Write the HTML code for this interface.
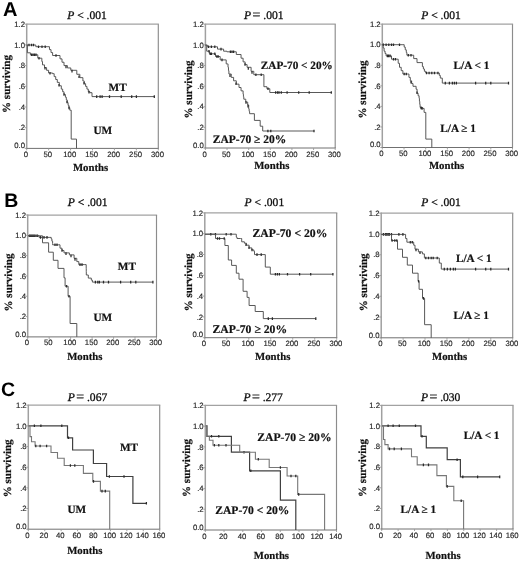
<!DOCTYPE html>
<html><head><meta charset="utf-8"><title>Kaplan-Meier survival curves</title>
<style>
html,body{margin:0;padding:0;background:#fff;}
body{width:520px;height:561px;overflow:hidden;font-family:"Liberation Sans", sans-serif;}
svg{display:block;filter:blur(0.35px);}
</style></head>
<body>
<svg width="520" height="561" viewBox="0 0 520 561" shape-rendering="auto" text-rendering="geometricPrecision">
<rect x="0" y="0" width="520" height="561" fill="#fff"/>
<text x="2.9" y="16.2" font-family='"Liberation Sans", sans-serif' font-size="20" font-weight="bold" font-style="normal" text-anchor="start" fill="#000">A</text>
<text x="4.2" y="207.3" font-family='"Liberation Sans", sans-serif' font-size="19.5" font-weight="bold" font-style="normal" text-anchor="start" fill="#000">B</text>
<text x="0.9" y="396.2" font-family='"Liberation Sans", sans-serif' font-size="19.5" font-weight="bold" font-style="normal" text-anchor="start" fill="#000">C</text>
<path d="M26.7 24.2 H158.9" stroke="#a2a2a2" stroke-width="1.25" fill="none"/>
<path d="M158.3 24.2 V148.4" stroke="#8c8c8c" stroke-width="1.15" fill="none"/>
<path d="M26.7 23.6 V148.9" stroke="#a0a0a0" stroke-width="1.5" fill="none"/>
<path d="M26 148.4 H158.8" stroke="#707070" stroke-width="1.0" fill="none"/>
<text x="25.1" y="26.9" font-family='"Liberation Sans", sans-serif' font-size="7.75" font-weight="normal" font-style="normal" text-anchor="end" fill="#262626" stroke="#262626" stroke-width="0.15">1.2</text>
<text x="25.1" y="47.6" font-family='"Liberation Sans", sans-serif' font-size="7.75" font-weight="normal" font-style="normal" text-anchor="end" fill="#262626" stroke="#262626" stroke-width="0.15">1.0</text>
<text x="25.1" y="68.3" font-family='"Liberation Sans", sans-serif' font-size="7.75" font-weight="normal" font-style="normal" text-anchor="end" fill="#262626" stroke="#262626" stroke-width="0.15">.8</text>
<text x="25.1" y="89" font-family='"Liberation Sans", sans-serif' font-size="7.75" font-weight="normal" font-style="normal" text-anchor="end" fill="#262626" stroke="#262626" stroke-width="0.15">.6</text>
<text x="25.1" y="109.7" font-family='"Liberation Sans", sans-serif' font-size="7.75" font-weight="normal" font-style="normal" text-anchor="end" fill="#262626" stroke="#262626" stroke-width="0.15">.4</text>
<text x="25.1" y="130.4" font-family='"Liberation Sans", sans-serif' font-size="7.75" font-weight="normal" font-style="normal" text-anchor="end" fill="#262626" stroke="#262626" stroke-width="0.15">.2</text>
<text x="25.1" y="148.1" font-family='"Liberation Sans", sans-serif' font-size="7.75" font-weight="normal" font-style="normal" text-anchor="end" fill="#262626" stroke="#262626" stroke-width="0.15">0.0</text>
<text x="25.9" y="156.9" font-family='"Liberation Sans", sans-serif' font-size="7.75" font-weight="normal" font-style="normal" text-anchor="middle" fill="#262626" stroke="#262626" stroke-width="0.15">0</text>
<text x="47.83" y="156.9" font-family='"Liberation Sans", sans-serif' font-size="7.75" font-weight="normal" font-style="normal" text-anchor="middle" fill="#262626" stroke="#262626" stroke-width="0.15">50</text>
<text x="69.77" y="156.9" font-family='"Liberation Sans", sans-serif' font-size="7.75" font-weight="normal" font-style="normal" text-anchor="middle" fill="#262626" stroke="#262626" stroke-width="0.15">100</text>
<text x="91.7" y="156.9" font-family='"Liberation Sans", sans-serif' font-size="7.75" font-weight="normal" font-style="normal" text-anchor="middle" fill="#262626" stroke="#262626" stroke-width="0.15">150</text>
<text x="113.63" y="156.9" font-family='"Liberation Sans", sans-serif' font-size="7.75" font-weight="normal" font-style="normal" text-anchor="middle" fill="#262626" stroke="#262626" stroke-width="0.15">200</text>
<text x="135.57" y="156.9" font-family='"Liberation Sans", sans-serif' font-size="7.75" font-weight="normal" font-style="normal" text-anchor="middle" fill="#262626" stroke="#262626" stroke-width="0.15">250</text>
<text x="157.5" y="156.9" font-family='"Liberation Sans", sans-serif' font-size="7.75" font-weight="normal" font-style="normal" text-anchor="middle" fill="#262626" stroke="#262626" stroke-width="0.15">300</text>
<path d="M24.7 24.2 H26.7 M24.7 44.9 H26.7 M24.7 65.6 H26.7 M24.7 86.3 H26.7 M24.7 107 H26.7 M24.7 127.7 H26.7 M24.7 148.4 H26.7 M26.7 148.4 V150.4 M48.63 148.4 V150.4 M70.57 148.4 V150.4 M92.5 148.4 V150.4 M114.43 148.4 V150.4 M136.37 148.4 V150.4 M158.3 148.4 V150.4" fill="none" stroke="#999999" stroke-width="0.9"/>
<text x="67.2" y="18.8" font-family='"Liberation Serif", serif' font-size="11.55" fill="#111" stroke="#111" stroke-width="0.3"><tspan font-style="italic">P</tspan> &lt; .001</text>
<path d="M26.7 45 L35.8 45 L35.8 46.7 L47.9 46.7 L49.47 46.7 L49.47 49.63 L51.03 49.63 L51.03 52.57 L52.6 52.57 L52.6 55.5 L58 55.5 L60 55.5 L60 58.87 L62 58.87 L62 62.23 L64 62.23 L64 65.6 L67.4 65.6 L67.4 67.95 L70.8 67.95 L70.8 70.3 L76.8 70.3 L76.8 74.3 L79.85 74.3 L79.85 77.65 L82.9 77.65 L82.9 81 L84.25 81 L84.25 83.7 L85.6 83.7 L85.6 86.4 L86.95 86.4 L86.95 89.1 L88.3 89.1 L88.3 91.8 L90 91.8 L90 92.7 L92 92.7 L92 96.6 L154.5 96.6" fill="none" stroke="#505050" stroke-width="0.95"/>
<path d="M29 43.7 V46.3 M31.5 43.7 V46.3 M33.5 43.7 V46.3 M38.5 45.4 V48 M42 45.4 V48 M45.2 45.4 V48 M56 54.2 V56.8 M66 65.68 V68.28 M72 69.8 V72.4 M79 75.42 V78.02 M84 81.9 V84.5 M89 90.87 V93.47 M96.7 95.3 V97.9 M100.1 95.3 V97.9 M102.1 95.3 V97.9 M109.5 95.3 V97.9 M121.2 95.3 V97.9 M131.7 95.3 V97.9 M136.4 95.3 V97.9 M154.3 95.3 V97.9" fill="none" stroke="#2a2a2a" stroke-width="1.25"/>
<path d="M26.7 45 L27.4 45 L27.4 52.8 L30.4 52.8 L30.4 54.8 L37.8 54.8 L37.8 58.2 L41.2 58.2 L41.85 58.2 L41.85 61.55 L42.5 61.55 L42.5 64.9 L44.53 64.9 L44.53 67.6 L46.57 67.6 L46.57 70.3 L48.6 70.3 L48.6 73 L52.6 73 L52.6 73.7 L54.17 73.7 L54.17 76.6 L55.73 76.6 L55.73 79.5 L57.3 79.5 L57.3 82.4 L59.3 82.4 L59.3 85.75 L61.3 85.75 L61.3 89.1 L62.67 89.1 L62.67 91.8 L64.03 91.8 L64.03 94.5 L65.4 94.5 L65.4 97.2 L66.3 97.2 L66.3 99.9 L67.2 99.9 L67.2 102.6 L68.1 102.6 L68.1 105.3 L68.95 105.3 L68.95 107.75 L69.8 107.75 L69.8 110.2 L71.2 110.2 L71.2 139.1 L76.5 139.1 L76.5 148.4" fill="none" stroke="#505050" stroke-width="0.95"/>
<path d="M31.5 53.5 V56.1 M33 53.5 V56.1 M34.5 53.5 V56.1 M36 53.5 V56.1 M39 56.9 V59.5 M45 66.92 V69.52 M50 71.95 V74.55 M59 83.95 V86.55 M64 93.13 V95.73 M67 100.7 V103.3 M69 106.59 V109.19" fill="none" stroke="#2a2a2a" stroke-width="1.25"/>
<text x="108.6" y="91" font-family='"Liberation Serif", serif' font-size="11.25" font-weight="bold" font-style="normal" text-anchor="start" fill="#111" stroke="#111" stroke-width="0.2">MT</text>
<text x="93.4" y="133.7" font-family='"Liberation Serif", serif' font-size="11.25" font-weight="bold" font-style="normal" text-anchor="start" fill="#111" stroke="#111" stroke-width="0.2">UM</text>
<text x="72.9" y="170.5" font-family='"Liberation Serif", serif' font-size="10.75" font-weight="bold" font-style="normal" text-anchor="start" fill="#111" stroke="#111" stroke-width="0.2">Months</text>
<text transform="translate(9.9 84) rotate(-90)" font-family='"Liberation Serif", serif' font-size="11" font-weight="bold" text-anchor="middle" fill="#111" stroke="#111" stroke-width="0.2">% surviving</text>
<path d="M205.4 24.2 H335.8" stroke="#a2a2a2" stroke-width="1.25" fill="none"/>
<path d="M335.2 24.2 V148" stroke="#8c8c8c" stroke-width="1.15" fill="none"/>
<path d="M205.4 23.6 V148.5" stroke="#a0a0a0" stroke-width="1.5" fill="none"/>
<path d="M204.7 148 H335.7" stroke="#707070" stroke-width="1.0" fill="none"/>
<text x="203.8" y="26.9" font-family='"Liberation Sans", sans-serif' font-size="7.75" font-weight="normal" font-style="normal" text-anchor="end" fill="#262626" stroke="#262626" stroke-width="0.15">1.2</text>
<text x="203.8" y="47.53" font-family='"Liberation Sans", sans-serif' font-size="7.75" font-weight="normal" font-style="normal" text-anchor="end" fill="#262626" stroke="#262626" stroke-width="0.15">1.0</text>
<text x="203.8" y="68.17" font-family='"Liberation Sans", sans-serif' font-size="7.75" font-weight="normal" font-style="normal" text-anchor="end" fill="#262626" stroke="#262626" stroke-width="0.15">.8</text>
<text x="203.8" y="88.8" font-family='"Liberation Sans", sans-serif' font-size="7.75" font-weight="normal" font-style="normal" text-anchor="end" fill="#262626" stroke="#262626" stroke-width="0.15">.6</text>
<text x="203.8" y="109.43" font-family='"Liberation Sans", sans-serif' font-size="7.75" font-weight="normal" font-style="normal" text-anchor="end" fill="#262626" stroke="#262626" stroke-width="0.15">.4</text>
<text x="203.8" y="130.07" font-family='"Liberation Sans", sans-serif' font-size="7.75" font-weight="normal" font-style="normal" text-anchor="end" fill="#262626" stroke="#262626" stroke-width="0.15">.2</text>
<text x="203.8" y="147.7" font-family='"Liberation Sans", sans-serif' font-size="7.75" font-weight="normal" font-style="normal" text-anchor="end" fill="#262626" stroke="#262626" stroke-width="0.15">0.0</text>
<text x="204.6" y="156.5" font-family='"Liberation Sans", sans-serif' font-size="7.75" font-weight="normal" font-style="normal" text-anchor="middle" fill="#262626" stroke="#262626" stroke-width="0.15">0</text>
<text x="226.23" y="156.5" font-family='"Liberation Sans", sans-serif' font-size="7.75" font-weight="normal" font-style="normal" text-anchor="middle" fill="#262626" stroke="#262626" stroke-width="0.15">50</text>
<text x="247.87" y="156.5" font-family='"Liberation Sans", sans-serif' font-size="7.75" font-weight="normal" font-style="normal" text-anchor="middle" fill="#262626" stroke="#262626" stroke-width="0.15">100</text>
<text x="269.5" y="156.5" font-family='"Liberation Sans", sans-serif' font-size="7.75" font-weight="normal" font-style="normal" text-anchor="middle" fill="#262626" stroke="#262626" stroke-width="0.15">150</text>
<text x="291.13" y="156.5" font-family='"Liberation Sans", sans-serif' font-size="7.75" font-weight="normal" font-style="normal" text-anchor="middle" fill="#262626" stroke="#262626" stroke-width="0.15">200</text>
<text x="312.77" y="156.5" font-family='"Liberation Sans", sans-serif' font-size="7.75" font-weight="normal" font-style="normal" text-anchor="middle" fill="#262626" stroke="#262626" stroke-width="0.15">250</text>
<text x="334.4" y="156.5" font-family='"Liberation Sans", sans-serif' font-size="7.75" font-weight="normal" font-style="normal" text-anchor="middle" fill="#262626" stroke="#262626" stroke-width="0.15">300</text>
<path d="M203.4 24.2 H205.4 M203.4 44.83 H205.4 M203.4 65.47 H205.4 M203.4 86.1 H205.4 M203.4 106.73 H205.4 M203.4 127.37 H205.4 M203.4 148 H205.4 M205.4 148 V150 M227.03 148 V150 M248.67 148 V150 M270.3 148 V150 M291.93 148 V150 M313.57 148 V150 M335.2 148 V150" fill="none" stroke="#999999" stroke-width="0.9"/>
<text x="244.1" y="19.1" font-family='"Liberation Serif", serif' font-size="11.6" fill="#111" stroke="#111" stroke-width="0.3"><tspan font-style="italic">P</tspan><tspan dx="1.3" font-size="13.92">=</tspan><tspan dx="2.9">.001</tspan></text>
<path d="M205.4 45.1 L207.4 45.1 L207.4 46.8 L217.5 46.8 L217.5 49.1 L223.6 49.1 L223.6 51.2 L226.9 51.2 L226.9 51.8 L236.3 51.8 L236.3 54.5 L239 54.5 L241.05 54.5 L241.05 58.2 L243.1 58.2 L243.1 61.9 L245.1 61.9 L245.1 64.6 L247.1 64.6 L247.1 67.3 L251.1 67.3 L251.1 71.3 L253.8 71.3 L253.8 74.7 L263.9 74.7 L263.9 86.7 L266.9 86.7 L266.9 88.7 L269.8 88.7 L269.8 92.5 L331.3 92.5" fill="none" stroke="#505050" stroke-width="0.95"/>
<path d="M208.5 45.5 V48.1 M211.4 45.5 V48.1 M214.8 45.5 V48.1 M221 47.8 V50.4 M230.4 50.5 V53.1 M232 50.5 V53.1 M233.6 50.5 V53.1 M245 63.17 V65.77 M248.3 67.2 V69.8 M252 71.13 V73.73 M255.9 73.4 V76 M261.2 73.4 V76 M268 87.4 V90 M275.6 91.2 V93.8 M277.5 91.2 V93.8 M279 91.2 V93.8 M281.3 91.2 V93.8 M287.1 91.2 V93.8 M298.7 91.2 V93.8 M309.2 91.2 V93.8 M331.3 91.2 V93.8" fill="none" stroke="#2a2a2a" stroke-width="1.25"/>
<path d="M205.4 45.1 L206.7 45.1 L206.7 51.2 L209.4 51.2 L209.4 53.8 L215.5 53.8 L215.5 56.5 L220.2 56.5 L220.2 59.9 L226.2 59.9 L226.2 63.9 L227.6 63.9 L228.03 63.9 L228.03 67.27 L228.47 67.27 L228.47 70.63 L228.9 70.63 L228.9 74 L231.25 74 L231.25 77.4 L233.6 77.4 L233.6 80.8 L236.3 80.8 L236.3 84.15 L239 84.15 L239 87.5 L241.05 87.5 L241.05 90.85 L243.1 90.85 L243.1 94.2 L243.45 94.2 L243.45 96.7 L243.8 96.7 L243.8 99.2 L245.75 99.2 L245.75 102.1 L247.7 102.1 L247.7 105 L248.7 105 L248.7 108.8 L249.15 108.8 L249.15 111.25 L249.6 111.25 L249.6 113.7 L254.4 113.7 L254.4 120.4 L260.2 120.4 L260.2 126.2 L262.7 126.2 L262.7 131 L314 131" fill="none" stroke="#505050" stroke-width="0.95"/>
<path d="M209 49.9 V52.5 M210.2 52.5 V55.1 M211.4 52.5 V55.1 M214.8 52.5 V55.1 M216.8 55.2 V57.8 M218.2 55.2 V57.8 M222 58.6 V61.2 M230 74.29 V76.89 M236 82.48 V85.08 M246 101.17 V103.77 M248 104.84 V107.44 M267.9 129.7 V132.3 M270.8 129.7 V132.3 M314 129.7 V132.3" fill="none" stroke="#2a2a2a" stroke-width="1.25"/>
<text x="260.8" y="69.2" font-family='"Liberation Serif", serif' font-size="11.25" font-weight="bold" font-style="normal" text-anchor="start" fill="#111" stroke="#111" stroke-width="0.2">ZAP-70 &lt; 20%</text>
<text x="212.8" y="143.2" font-family='"Liberation Serif", serif' font-size="11.5" font-weight="bold" font-style="normal" text-anchor="start" fill="#111" stroke="#111" stroke-width="0.2">ZAP-70 &#8805; 20%</text>
<text x="254.2" y="169.2" font-family='"Liberation Serif", serif' font-size="10.75" font-weight="bold" font-style="normal" text-anchor="start" fill="#111" stroke="#111" stroke-width="0.2">Months</text>
<text transform="translate(191.8 89.5) rotate(-90)" font-family='"Liberation Serif", serif' font-size="11" font-weight="bold" text-anchor="middle" fill="#111" stroke="#111" stroke-width="0.2">% surviving</text>
<path d="M382.3 24.2 H513.1" stroke="#a2a2a2" stroke-width="1.25" fill="none"/>
<path d="M512.5 24.2 V147.5" stroke="#8c8c8c" stroke-width="1.15" fill="none"/>
<path d="M382.3 23.6 V148" stroke="#a0a0a0" stroke-width="1.5" fill="none"/>
<path d="M381.6 147.5 H513" stroke="#707070" stroke-width="1.0" fill="none"/>
<text x="380.7" y="26.9" font-family='"Liberation Sans", sans-serif' font-size="7.75" font-weight="normal" font-style="normal" text-anchor="end" fill="#262626" stroke="#262626" stroke-width="0.15">1.2</text>
<text x="380.7" y="47.45" font-family='"Liberation Sans", sans-serif' font-size="7.75" font-weight="normal" font-style="normal" text-anchor="end" fill="#262626" stroke="#262626" stroke-width="0.15">1.0</text>
<text x="380.7" y="68" font-family='"Liberation Sans", sans-serif' font-size="7.75" font-weight="normal" font-style="normal" text-anchor="end" fill="#262626" stroke="#262626" stroke-width="0.15">.8</text>
<text x="380.7" y="88.55" font-family='"Liberation Sans", sans-serif' font-size="7.75" font-weight="normal" font-style="normal" text-anchor="end" fill="#262626" stroke="#262626" stroke-width="0.15">.6</text>
<text x="380.7" y="109.1" font-family='"Liberation Sans", sans-serif' font-size="7.75" font-weight="normal" font-style="normal" text-anchor="end" fill="#262626" stroke="#262626" stroke-width="0.15">.4</text>
<text x="380.7" y="129.65" font-family='"Liberation Sans", sans-serif' font-size="7.75" font-weight="normal" font-style="normal" text-anchor="end" fill="#262626" stroke="#262626" stroke-width="0.15">.2</text>
<text x="380.7" y="147.2" font-family='"Liberation Sans", sans-serif' font-size="7.75" font-weight="normal" font-style="normal" text-anchor="end" fill="#262626" stroke="#262626" stroke-width="0.15">0.0</text>
<text x="381.5" y="156" font-family='"Liberation Sans", sans-serif' font-size="7.75" font-weight="normal" font-style="normal" text-anchor="middle" fill="#262626" stroke="#262626" stroke-width="0.15">0</text>
<text x="403.2" y="156" font-family='"Liberation Sans", sans-serif' font-size="7.75" font-weight="normal" font-style="normal" text-anchor="middle" fill="#262626" stroke="#262626" stroke-width="0.15">50</text>
<text x="424.9" y="156" font-family='"Liberation Sans", sans-serif' font-size="7.75" font-weight="normal" font-style="normal" text-anchor="middle" fill="#262626" stroke="#262626" stroke-width="0.15">100</text>
<text x="446.6" y="156" font-family='"Liberation Sans", sans-serif' font-size="7.75" font-weight="normal" font-style="normal" text-anchor="middle" fill="#262626" stroke="#262626" stroke-width="0.15">150</text>
<text x="468.3" y="156" font-family='"Liberation Sans", sans-serif' font-size="7.75" font-weight="normal" font-style="normal" text-anchor="middle" fill="#262626" stroke="#262626" stroke-width="0.15">200</text>
<text x="490" y="156" font-family='"Liberation Sans", sans-serif' font-size="7.75" font-weight="normal" font-style="normal" text-anchor="middle" fill="#262626" stroke="#262626" stroke-width="0.15">250</text>
<text x="511.7" y="156" font-family='"Liberation Sans", sans-serif' font-size="7.75" font-weight="normal" font-style="normal" text-anchor="middle" fill="#262626" stroke="#262626" stroke-width="0.15">300</text>
<path d="M380.3 24.2 H382.3 M380.3 44.75 H382.3 M380.3 65.3 H382.3 M380.3 85.85 H382.3 M380.3 106.4 H382.3 M380.3 126.95 H382.3 M380.3 147.5 H382.3 M382.3 147.5 V149.5 M404 147.5 V149.5 M425.7 147.5 V149.5 M447.4 147.5 V149.5 M469.1 147.5 V149.5 M490.8 147.5 V149.5 M512.5 147.5 V149.5" fill="none" stroke="#999999" stroke-width="0.9"/>
<text x="421.2" y="18.8" font-family='"Liberation Serif", serif' font-size="11.55" fill="#111" stroke="#111" stroke-width="0.3"><tspan font-style="italic">P</tspan> &lt; .001</text>
<path d="M382.3 44.7 L402.9 44.7 L404.2 44.7 L404.2 47.1 L405.25 47.1 L405.25 49.8 L406.3 49.8 L406.3 52.5 L406.9 52.5 L406.9 55.2 L413 55.2 L413.7 55.2 L413.7 58.6 L417 58.6 L417 62.6 L422.4 62.6 L422.4 66.6 L423.4 66.6 L423.4 68.95 L424.4 68.95 L424.4 71.3 L425.8 71.3 L425.8 73 L439.3 73 L439.3 75.4 L440.3 75.4 L440.3 78.1 L442.3 78.1 L442.3 83.1 L508.5 83.1" fill="none" stroke="#505050" stroke-width="0.95"/>
<path d="M383.4 43.4 V46 M386.1 43.4 V46 M388.8 43.4 V46 M391.5 43.4 V46 M393.5 43.4 V46 M399.5 43.4 V46 M408.3 53.9 V56.5 M411 53.9 V56.5 M426.5 71.7 V74.3 M429.1 71.7 V74.3 M431.8 71.7 V74.3 M434.5 71.7 V74.3 M437.9 71.7 V74.3 M445.3 81.8 V84.4 M449.4 81.8 V84.4 M452.4 81.8 V84.4 M454.4 81.8 V84.4 M456.4 81.8 V84.4 M475.6 81.8 V84.4 M485.7 81.8 V84.4 M490.8 81.8 V84.4 M508.5 81.8 V84.4" fill="none" stroke="#2a2a2a" stroke-width="1.25"/>
<path d="M382.3 44.7 L383.2 44.7 L383.2 47.95 L384.1 47.95 L384.1 51.2 L385.1 51.2 L385.1 53.55 L386.1 53.55 L386.1 55.9 L391.5 55.9 L391.5 59.2 L396.8 59.2 L398.2 59.2 L398.2 63.3 L399.5 63.3 L399.5 67.3 L401.2 67.3 L401.2 70.65 L402.9 70.65 L402.9 74 L407.6 74 L408.95 74 L408.95 77.4 L410.3 77.4 L410.3 80.8 L411.65 80.8 L411.65 83.55 L413 83.55 L413 86.3 L416.1 86.3 L416.1 89.2 L417.1 89.2 L417.1 93.2 L418.1 93.2 L418.1 95.75 L419.1 95.75 L419.1 98.3 L419.43 98.3 L419.43 101.33 L419.77 101.33 L419.77 104.37 L420.1 104.37 L420.1 107.4 L422.1 107.4 L422.1 108.4 L424.1 108.4 L424.1 112.4 L425.8 112.4 L425.8 114 L425.8 139.1 L431.8 139.1 L431.8 147.5" fill="none" stroke="#505050" stroke-width="0.95"/>
<path d="M387.4 54.6 V57.2 M388.6 54.6 V57.2 M390.1 54.6 V57.2 M393.5 57.9 V60.5 M395.5 57.9 V60.5 M404.2 72.7 V75.3 M406.3 72.7 V75.3 M411 80.93 V83.53 M417 91.5 V94.1 M421 106.55 V109.15 M422.1 107.1 V109.7" fill="none" stroke="#2a2a2a" stroke-width="1.25"/>
<text x="453.6" y="68.8" font-family='"Liberation Serif", serif' font-size="11.25" font-weight="bold" font-style="normal" text-anchor="start" fill="#111" stroke="#111" stroke-width="0.2">L/A &lt; 1</text>
<text x="440.3" y="131.6" font-family='"Liberation Serif", serif' font-size="11.25" font-weight="bold" font-style="normal" text-anchor="start" fill="#111" stroke="#111" stroke-width="0.2">L/A &#8805; 1</text>
<text x="428.9" y="169.2" font-family='"Liberation Serif", serif' font-size="10.75" font-weight="bold" font-style="normal" text-anchor="start" fill="#111" stroke="#111" stroke-width="0.2">Months</text>
<text transform="translate(366.1 89.5) rotate(-90)" font-family='"Liberation Serif", serif' font-size="11" font-weight="bold" text-anchor="middle" fill="#111" stroke="#111" stroke-width="0.2">% surviving</text>
<path d="M27.7 215 H157.1" stroke="#a2a2a2" stroke-width="1.25" fill="none"/>
<path d="M156.5 215 V336.9" stroke="#8c8c8c" stroke-width="1.15" fill="none"/>
<path d="M27.7 214.4 V337.4" stroke="#a0a0a0" stroke-width="1.5" fill="none"/>
<path d="M27 336.9 H157" stroke="#707070" stroke-width="1.0" fill="none"/>
<text x="26.1" y="217.7" font-family='"Liberation Sans", sans-serif' font-size="7.75" font-weight="normal" font-style="normal" text-anchor="end" fill="#262626" stroke="#262626" stroke-width="0.15">1.2</text>
<text x="26.1" y="238.02" font-family='"Liberation Sans", sans-serif' font-size="7.75" font-weight="normal" font-style="normal" text-anchor="end" fill="#262626" stroke="#262626" stroke-width="0.15">1.0</text>
<text x="26.1" y="258.33" font-family='"Liberation Sans", sans-serif' font-size="7.75" font-weight="normal" font-style="normal" text-anchor="end" fill="#262626" stroke="#262626" stroke-width="0.15">.8</text>
<text x="26.1" y="278.65" font-family='"Liberation Sans", sans-serif' font-size="7.75" font-weight="normal" font-style="normal" text-anchor="end" fill="#262626" stroke="#262626" stroke-width="0.15">.6</text>
<text x="26.1" y="298.97" font-family='"Liberation Sans", sans-serif' font-size="7.75" font-weight="normal" font-style="normal" text-anchor="end" fill="#262626" stroke="#262626" stroke-width="0.15">.4</text>
<text x="26.1" y="319.28" font-family='"Liberation Sans", sans-serif' font-size="7.75" font-weight="normal" font-style="normal" text-anchor="end" fill="#262626" stroke="#262626" stroke-width="0.15">.2</text>
<text x="26.1" y="336.6" font-family='"Liberation Sans", sans-serif' font-size="7.75" font-weight="normal" font-style="normal" text-anchor="end" fill="#262626" stroke="#262626" stroke-width="0.15">0.0</text>
<text x="26.9" y="345.4" font-family='"Liberation Sans", sans-serif' font-size="7.75" font-weight="normal" font-style="normal" text-anchor="middle" fill="#262626" stroke="#262626" stroke-width="0.15">0</text>
<text x="48.37" y="345.4" font-family='"Liberation Sans", sans-serif' font-size="7.75" font-weight="normal" font-style="normal" text-anchor="middle" fill="#262626" stroke="#262626" stroke-width="0.15">50</text>
<text x="69.83" y="345.4" font-family='"Liberation Sans", sans-serif' font-size="7.75" font-weight="normal" font-style="normal" text-anchor="middle" fill="#262626" stroke="#262626" stroke-width="0.15">100</text>
<text x="91.3" y="345.4" font-family='"Liberation Sans", sans-serif' font-size="7.75" font-weight="normal" font-style="normal" text-anchor="middle" fill="#262626" stroke="#262626" stroke-width="0.15">150</text>
<text x="112.77" y="345.4" font-family='"Liberation Sans", sans-serif' font-size="7.75" font-weight="normal" font-style="normal" text-anchor="middle" fill="#262626" stroke="#262626" stroke-width="0.15">200</text>
<text x="134.23" y="345.4" font-family='"Liberation Sans", sans-serif' font-size="7.75" font-weight="normal" font-style="normal" text-anchor="middle" fill="#262626" stroke="#262626" stroke-width="0.15">250</text>
<text x="155.7" y="345.4" font-family='"Liberation Sans", sans-serif' font-size="7.75" font-weight="normal" font-style="normal" text-anchor="middle" fill="#262626" stroke="#262626" stroke-width="0.15">300</text>
<path d="M25.7 215 H27.7 M25.7 235.32 H27.7 M25.7 255.63 H27.7 M25.7 275.95 H27.7 M25.7 296.27 H27.7 M25.7 316.58 H27.7 M25.7 336.9 H27.7 M27.7 336.9 V338.9 M49.17 336.9 V338.9 M70.63 336.9 V338.9 M92.1 336.9 V338.9 M113.57 336.9 V338.9 M135.03 336.9 V338.9 M156.5 336.9 V338.9" fill="none" stroke="#999999" stroke-width="0.9"/>
<text x="67.8" y="205.9" font-family='"Liberation Serif", serif' font-size="11.6" fill="#111" stroke="#111" stroke-width="0.3"><tspan font-style="italic">P</tspan> &lt; .001</text>
<path d="M28 235.8 L39.1 235.8 L39.1 237.4 L49.9 237.4 L51.2 237.4 L51.2 238.8 L51.9 238.8 L51.9 241.15 L52.6 241.15 L52.6 243.5 L52.6 244.8 L58.6 244.8 L60 244.8 L60 248.2 L62 248.2 L62 250.55 L64 250.55 L64 252.9 L69.4 252.9 L69.4 254.9 L74.1 254.9 L74.1 258.3 L76.8 258.3 L76.8 261.6 L78.8 261.6 L78.8 264.6 L84.2 264.6 L86.2 264.6 L86.2 268.4 L86.25 268.4 L86.25 271.7 L86.3 271.7 L86.3 275 L88.3 275 L88.3 278.1 L91.3 278.1 L91.3 280.1 L92.4 280.1 L92.4 282.1 L152.9 282.1" fill="none" stroke="#505050" stroke-width="0.95"/>
<path d="M29.5 234.5 V237.1 M30.5 234.5 V237.1 M31.5 234.5 V237.1 M32.5 234.5 V237.1 M33.5 234.5 V237.1 M34.5 234.5 V237.1 M36 234.5 V237.1 M37.5 234.5 V237.1 M40.5 236.1 V238.7 M44 236.1 V238.7 M47 236.1 V238.7 M55 243.5 V246.1 M57 243.5 V246.1 M62 249.25 V251.85 M66 252.34 V254.94 M71 254.76 V257.36 M75 258.1 V260.7 M80 263.3 V265.9 M82 263.3 V265.9 M95.4 280.8 V283.4 M97.8 280.8 V283.4 M99.4 280.8 V283.4 M103.5 280.8 V283.4 M108.5 280.8 V283.4 M120.6 280.8 V283.4 M130.7 280.8 V283.4 M135.8 280.8 V283.4 M152.9 280.8 V283.4" fill="none" stroke="#2a2a2a" stroke-width="1.25"/>
<path d="M28 235.8 L42.5 235.8 L42.5 242.8 L48.6 242.8 L48.6 252.2 L53.3 252.2 L53.3 260.3 L58 260.3 L58 268.4 L64 268.4 L64 277.8 L65.1 277.8 L65.1 286.2 L68.1 286.2 L68.1 296.3 L70.1 296.3 L70.1 323.5 L76.8 323.5 L76.8 336.9" fill="none" stroke="#505050" stroke-width="0.95"/>
<path d="M66.5 284.9 V287.5 M69 295 V297.6" fill="none" stroke="#2a2a2a" stroke-width="1.25"/>
<text x="117.8" y="270" font-family='"Liberation Serif", serif' font-size="11.25" font-weight="bold" font-style="normal" text-anchor="start" fill="#111" stroke="#111" stroke-width="0.2">MT</text>
<text x="93.4" y="320.9" font-family='"Liberation Serif", serif' font-size="11.25" font-weight="bold" font-style="normal" text-anchor="start" fill="#111" stroke="#111" stroke-width="0.2">UM</text>
<text x="67.2" y="359.5" font-family='"Liberation Serif", serif' font-size="10.75" font-weight="bold" font-style="normal" text-anchor="start" fill="#111" stroke="#111" stroke-width="0.2">Months</text>
<text transform="translate(11.6 282.5) rotate(-90)" font-family='"Liberation Serif", serif' font-size="11" font-weight="bold" text-anchor="middle" fill="#111" stroke="#111" stroke-width="0.2">% surviving</text>
<path d="M204.8 212.9 H337.3" stroke="#a2a2a2" stroke-width="1.25" fill="none"/>
<path d="M336.7 212.9 V337.7" stroke="#8c8c8c" stroke-width="1.15" fill="none"/>
<path d="M204.8 212.3 V338.2" stroke="#a0a0a0" stroke-width="1.5" fill="none"/>
<path d="M204.1 337.7 H337.2" stroke="#707070" stroke-width="1.0" fill="none"/>
<text x="203.2" y="215.6" font-family='"Liberation Sans", sans-serif' font-size="7.75" font-weight="normal" font-style="normal" text-anchor="end" fill="#262626" stroke="#262626" stroke-width="0.15">1.2</text>
<text x="203.2" y="236.4" font-family='"Liberation Sans", sans-serif' font-size="7.75" font-weight="normal" font-style="normal" text-anchor="end" fill="#262626" stroke="#262626" stroke-width="0.15">1.0</text>
<text x="203.2" y="257.2" font-family='"Liberation Sans", sans-serif' font-size="7.75" font-weight="normal" font-style="normal" text-anchor="end" fill="#262626" stroke="#262626" stroke-width="0.15">.8</text>
<text x="203.2" y="278" font-family='"Liberation Sans", sans-serif' font-size="7.75" font-weight="normal" font-style="normal" text-anchor="end" fill="#262626" stroke="#262626" stroke-width="0.15">.6</text>
<text x="203.2" y="298.8" font-family='"Liberation Sans", sans-serif' font-size="7.75" font-weight="normal" font-style="normal" text-anchor="end" fill="#262626" stroke="#262626" stroke-width="0.15">.4</text>
<text x="203.2" y="319.6" font-family='"Liberation Sans", sans-serif' font-size="7.75" font-weight="normal" font-style="normal" text-anchor="end" fill="#262626" stroke="#262626" stroke-width="0.15">.2</text>
<text x="203.2" y="337.4" font-family='"Liberation Sans", sans-serif' font-size="7.75" font-weight="normal" font-style="normal" text-anchor="end" fill="#262626" stroke="#262626" stroke-width="0.15">0.0</text>
<text x="204" y="346.2" font-family='"Liberation Sans", sans-serif' font-size="7.75" font-weight="normal" font-style="normal" text-anchor="middle" fill="#262626" stroke="#262626" stroke-width="0.15">0</text>
<text x="225.98" y="346.2" font-family='"Liberation Sans", sans-serif' font-size="7.75" font-weight="normal" font-style="normal" text-anchor="middle" fill="#262626" stroke="#262626" stroke-width="0.15">50</text>
<text x="247.97" y="346.2" font-family='"Liberation Sans", sans-serif' font-size="7.75" font-weight="normal" font-style="normal" text-anchor="middle" fill="#262626" stroke="#262626" stroke-width="0.15">100</text>
<text x="269.95" y="346.2" font-family='"Liberation Sans", sans-serif' font-size="7.75" font-weight="normal" font-style="normal" text-anchor="middle" fill="#262626" stroke="#262626" stroke-width="0.15">150</text>
<text x="291.93" y="346.2" font-family='"Liberation Sans", sans-serif' font-size="7.75" font-weight="normal" font-style="normal" text-anchor="middle" fill="#262626" stroke="#262626" stroke-width="0.15">200</text>
<text x="313.92" y="346.2" font-family='"Liberation Sans", sans-serif' font-size="7.75" font-weight="normal" font-style="normal" text-anchor="middle" fill="#262626" stroke="#262626" stroke-width="0.15">250</text>
<text x="335.9" y="346.2" font-family='"Liberation Sans", sans-serif' font-size="7.75" font-weight="normal" font-style="normal" text-anchor="middle" fill="#262626" stroke="#262626" stroke-width="0.15">300</text>
<path d="M202.8 212.9 H204.8 M202.8 233.7 H204.8 M202.8 254.5 H204.8 M202.8 275.3 H204.8 M202.8 296.1 H204.8 M202.8 316.9 H204.8 M202.8 337.7 H204.8 M204.8 337.7 V339.7 M226.78 337.7 V339.7 M248.77 337.7 V339.7 M270.75 337.7 V339.7 M292.73 337.7 V339.7 M314.72 337.7 V339.7 M336.7 337.7 V339.7" fill="none" stroke="#999999" stroke-width="0.9"/>
<text x="244.6" y="205.9" font-family='"Liberation Serif", serif' font-size="11.55" fill="#111" stroke="#111" stroke-width="0.3"><tspan font-style="italic">P</tspan> &lt; .001</text>
<path d="M205 234.2 L236.3 234.2 L236.3 237.1 L237 237.1 L237 238.5 L240.4 238.5 L241.7 238.5 L241.7 241.8 L244.4 241.8 L244.4 243.2 L246.4 243.2 L246.4 245.2 L249.1 245.2 L249.1 247.9 L251.8 247.9 L251.8 249.9 L253.8 249.9 L253.8 251.2 L254.5 251.2 L254.5 254.6 L265.3 254.6 L265.3 267.1 L270.3 267.1 L270.3 274.2 L332.9 274.2" fill="none" stroke="#505050" stroke-width="0.95"/>
<path d="M210.8 232.9 V235.5 M215.5 232.9 V235.5 M226.2 232.9 V235.5 M231 232.9 V235.5 M246 243.5 V246.1 M249 246.5 V249.1 M252 248.73 V251.33 M257 253.3 V255.9 M261.2 253.3 V255.9 M275.4 272.9 V275.5 M277.4 272.9 V275.5 M279.4 272.9 V275.5 M287.5 272.9 V275.5 M299.6 272.9 V275.5 M310.7 272.9 V275.5 M332.9 272.9 V275.5" fill="none" stroke="#2a2a2a" stroke-width="1.25"/>
<path d="M205 234.2 L215.5 234.2 L215.5 238.5 L224.9 238.5 L224.9 245.5 L228.3 245.5 L228.3 260 L231.6 260 L231.6 265.4 L236.3 265.4 L236.3 273.2 L239 273.2 L239 279.2 L243.1 279.2 L243.1 291.3 L247.1 291.3 L247.1 297.4 L249.1 297.4 L249.1 305.5 L255.2 305.5 L255.2 311.5 L263.3 311.5 L263.3 318.6 L315.8 318.6" fill="none" stroke="#505050" stroke-width="0.95"/>
<path d="M217.5 237.2 V239.8 M219.5 237.2 V239.8 M224.2 237.2 V239.8 M268.3 317.3 V319.9 M272.4 317.3 V319.9 M315.8 317.3 V319.9" fill="none" stroke="#2a2a2a" stroke-width="1.25"/>
<text x="252.5" y="237" font-family='"Liberation Serif", serif' font-size="11.7" font-weight="bold" font-style="normal" text-anchor="start" fill="#111" stroke="#111" stroke-width="0.2">ZAP-70 &lt; 20%</text>
<text x="212.5" y="333" font-family='"Liberation Serif", serif' font-size="11.7" font-weight="bold" font-style="normal" text-anchor="start" fill="#111" stroke="#111" stroke-width="0.2">ZAP-70 &#8805; 20%</text>
<text x="255.1" y="359.5" font-family='"Liberation Serif", serif' font-size="10.75" font-weight="bold" font-style="normal" text-anchor="start" fill="#111" stroke="#111" stroke-width="0.2">Months</text>
<text transform="translate(191.6 282.3) rotate(-90)" font-family='"Liberation Serif", serif' font-size="11" font-weight="bold" text-anchor="middle" fill="#111" stroke="#111" stroke-width="0.2">% surviving</text>
<path d="M381.2 213.2 H513.3" stroke="#a2a2a2" stroke-width="1.25" fill="none"/>
<path d="M512.7 213.2 V337.8" stroke="#8c8c8c" stroke-width="1.15" fill="none"/>
<path d="M381.2 212.6 V338.3" stroke="#a0a0a0" stroke-width="1.5" fill="none"/>
<path d="M380.5 337.8 H513.2" stroke="#707070" stroke-width="1.0" fill="none"/>
<text x="379.6" y="215.9" font-family='"Liberation Sans", sans-serif' font-size="7.75" font-weight="normal" font-style="normal" text-anchor="end" fill="#262626" stroke="#262626" stroke-width="0.15">1.2</text>
<text x="379.6" y="236.67" font-family='"Liberation Sans", sans-serif' font-size="7.75" font-weight="normal" font-style="normal" text-anchor="end" fill="#262626" stroke="#262626" stroke-width="0.15">1.0</text>
<text x="379.6" y="257.43" font-family='"Liberation Sans", sans-serif' font-size="7.75" font-weight="normal" font-style="normal" text-anchor="end" fill="#262626" stroke="#262626" stroke-width="0.15">.8</text>
<text x="379.6" y="278.2" font-family='"Liberation Sans", sans-serif' font-size="7.75" font-weight="normal" font-style="normal" text-anchor="end" fill="#262626" stroke="#262626" stroke-width="0.15">.6</text>
<text x="379.6" y="298.97" font-family='"Liberation Sans", sans-serif' font-size="7.75" font-weight="normal" font-style="normal" text-anchor="end" fill="#262626" stroke="#262626" stroke-width="0.15">.4</text>
<text x="379.6" y="319.73" font-family='"Liberation Sans", sans-serif' font-size="7.75" font-weight="normal" font-style="normal" text-anchor="end" fill="#262626" stroke="#262626" stroke-width="0.15">.2</text>
<text x="379.6" y="337.5" font-family='"Liberation Sans", sans-serif' font-size="7.75" font-weight="normal" font-style="normal" text-anchor="end" fill="#262626" stroke="#262626" stroke-width="0.15">0.0</text>
<text x="380.4" y="346.3" font-family='"Liberation Sans", sans-serif' font-size="7.75" font-weight="normal" font-style="normal" text-anchor="middle" fill="#262626" stroke="#262626" stroke-width="0.15">0</text>
<text x="402.32" y="346.3" font-family='"Liberation Sans", sans-serif' font-size="7.75" font-weight="normal" font-style="normal" text-anchor="middle" fill="#262626" stroke="#262626" stroke-width="0.15">50</text>
<text x="424.23" y="346.3" font-family='"Liberation Sans", sans-serif' font-size="7.75" font-weight="normal" font-style="normal" text-anchor="middle" fill="#262626" stroke="#262626" stroke-width="0.15">100</text>
<text x="446.15" y="346.3" font-family='"Liberation Sans", sans-serif' font-size="7.75" font-weight="normal" font-style="normal" text-anchor="middle" fill="#262626" stroke="#262626" stroke-width="0.15">150</text>
<text x="468.07" y="346.3" font-family='"Liberation Sans", sans-serif' font-size="7.75" font-weight="normal" font-style="normal" text-anchor="middle" fill="#262626" stroke="#262626" stroke-width="0.15">200</text>
<text x="489.98" y="346.3" font-family='"Liberation Sans", sans-serif' font-size="7.75" font-weight="normal" font-style="normal" text-anchor="middle" fill="#262626" stroke="#262626" stroke-width="0.15">250</text>
<text x="511.9" y="346.3" font-family='"Liberation Sans", sans-serif' font-size="7.75" font-weight="normal" font-style="normal" text-anchor="middle" fill="#262626" stroke="#262626" stroke-width="0.15">300</text>
<path d="M379.2 213.2 H381.2 M379.2 233.97 H381.2 M379.2 254.73 H381.2 M379.2 275.5 H381.2 M379.2 296.27 H381.2 M379.2 317.03 H381.2 M379.2 337.8 H381.2 M381.2 337.8 V339.8 M403.12 337.8 V339.8 M425.03 337.8 V339.8 M446.95 337.8 V339.8 M468.87 337.8 V339.8 M490.78 337.8 V339.8 M512.7 337.8 V339.8" fill="none" stroke="#999999" stroke-width="0.9"/>
<text x="421.2" y="205.9" font-family='"Liberation Serif", serif' font-size="11.55" fill="#111" stroke="#111" stroke-width="0.3"><tspan font-style="italic">P</tspan> &lt; .001</text>
<path d="M381.4 234.4 L405.6 234.4 L405.6 238.5 L406.9 238.5 L406.9 242.2 L412.3 242.2 L413.7 242.2 L413.7 245.2 L415 245.2 L415 249.2 L418.4 249.2 L418.4 251.9 L422.4 251.9 L422.4 253.9 L424.4 253.9 L424.4 257.3 L424.4 258 L439.3 258 L439.3 263.1 L441.3 263.1 L441.3 269.1 L508.5 269.1" fill="none" stroke="#505050" stroke-width="0.95"/>
<path d="M383.4 233.1 V235.7 M385.4 233.1 V235.7 M386.7 233.1 V235.7 M388.1 233.1 V235.7 M389.4 233.1 V235.7 M391.5 233.1 V235.7 M398.9 233.1 V235.7 M402.9 233.1 V235.7 M410.3 240.9 V243.5 M412.3 240.9 V243.5 M416 248.69 V251.29 M420 251.4 V254 M425.8 256.7 V259.3 M428.5 256.7 V259.3 M431.2 256.7 V259.3 M433.2 256.7 V259.3 M437.2 256.7 V259.3 M444.3 267.8 V270.4 M447.4 267.8 V270.4 M450.4 267.8 V270.4 M453.4 267.8 V270.4 M455.4 267.8 V270.4 M475.6 267.8 V270.4 M485.7 267.8 V270.4 M490.8 267.8 V270.4 M508.5 267.8 V270.4" fill="none" stroke="#2a2a2a" stroke-width="1.25"/>
<path d="M381.4 234.4 L391.5 234.4 L391.5 240.5 L397.5 240.5 L397.5 249.2 L402.5 249.2 L402.5 257.3 L407.3 257.3 L407.3 265.1 L412.5 265.1 L412.5 273.2 L418.1 273.2 L418.1 281.3 L419.1 281.3 L419.1 289.3 L422.5 289.3 L422.5 298.4 L424.6 298.4 L424.6 324.7 L431.2 324.7 L431.2 337.8" fill="none" stroke="#505050" stroke-width="0.95"/>
<path d="M392.1 239.2 V241.8 M394.8 239.2 V241.8 M396.8 239.2 V241.8 M418.6 280 V282.6 M423.5 297.1 V299.7" fill="none" stroke="#2a2a2a" stroke-width="1.25"/>
<text x="455.9" y="261.7" font-family='"Liberation Serif", serif' font-size="11.25" font-weight="bold" font-style="normal" text-anchor="start" fill="#111" stroke="#111" stroke-width="0.2">L/A &lt; 1</text>
<text x="453.4" y="319.2" font-family='"Liberation Serif", serif' font-size="11.25" font-weight="bold" font-style="normal" text-anchor="start" fill="#111" stroke="#111" stroke-width="0.2">L/A &#8805; 1</text>
<text x="432" y="359.5" font-family='"Liberation Serif", serif' font-size="10.75" font-weight="bold" font-style="normal" text-anchor="start" fill="#111" stroke="#111" stroke-width="0.2">Months</text>
<text transform="translate(366.9 282.3) rotate(-90)" font-family='"Liberation Serif", serif' font-size="11" font-weight="bold" text-anchor="middle" fill="#111" stroke="#111" stroke-width="0.2">% surviving</text>
<path d="M28.3 405.2 H160.3" stroke="#a2a2a2" stroke-width="1.25" fill="none"/>
<path d="M159.7 405.2 V529.2" stroke="#8c8c8c" stroke-width="1.15" fill="none"/>
<path d="M28.3 404.6 V529.7" stroke="#a0a0a0" stroke-width="1.5" fill="none"/>
<path d="M27.6 529.2 H160.2" stroke="#707070" stroke-width="1.0" fill="none"/>
<text x="26.7" y="407.9" font-family='"Liberation Sans", sans-serif' font-size="7.75" font-weight="normal" font-style="normal" text-anchor="end" fill="#262626" stroke="#262626" stroke-width="0.15">1.2</text>
<text x="26.7" y="428.57" font-family='"Liberation Sans", sans-serif' font-size="7.75" font-weight="normal" font-style="normal" text-anchor="end" fill="#262626" stroke="#262626" stroke-width="0.15">1.0</text>
<text x="26.7" y="449.23" font-family='"Liberation Sans", sans-serif' font-size="7.75" font-weight="normal" font-style="normal" text-anchor="end" fill="#262626" stroke="#262626" stroke-width="0.15">.8</text>
<text x="26.7" y="469.9" font-family='"Liberation Sans", sans-serif' font-size="7.75" font-weight="normal" font-style="normal" text-anchor="end" fill="#262626" stroke="#262626" stroke-width="0.15">.6</text>
<text x="26.7" y="490.57" font-family='"Liberation Sans", sans-serif' font-size="7.75" font-weight="normal" font-style="normal" text-anchor="end" fill="#262626" stroke="#262626" stroke-width="0.15">.4</text>
<text x="26.7" y="511.23" font-family='"Liberation Sans", sans-serif' font-size="7.75" font-weight="normal" font-style="normal" text-anchor="end" fill="#262626" stroke="#262626" stroke-width="0.15">.2</text>
<text x="26.7" y="528.9" font-family='"Liberation Sans", sans-serif' font-size="7.75" font-weight="normal" font-style="normal" text-anchor="end" fill="#262626" stroke="#262626" stroke-width="0.15">0.0</text>
<text x="27.5" y="537.7" font-family='"Liberation Sans", sans-serif' font-size="7.75" font-weight="normal" font-style="normal" text-anchor="middle" fill="#262626" stroke="#262626" stroke-width="0.15">0</text>
<text x="43.92" y="537.7" font-family='"Liberation Sans", sans-serif' font-size="7.75" font-weight="normal" font-style="normal" text-anchor="middle" fill="#262626" stroke="#262626" stroke-width="0.15">20</text>
<text x="60.35" y="537.7" font-family='"Liberation Sans", sans-serif' font-size="7.75" font-weight="normal" font-style="normal" text-anchor="middle" fill="#262626" stroke="#262626" stroke-width="0.15">40</text>
<text x="76.77" y="537.7" font-family='"Liberation Sans", sans-serif' font-size="7.75" font-weight="normal" font-style="normal" text-anchor="middle" fill="#262626" stroke="#262626" stroke-width="0.15">60</text>
<text x="93.2" y="537.7" font-family='"Liberation Sans", sans-serif' font-size="7.75" font-weight="normal" font-style="normal" text-anchor="middle" fill="#262626" stroke="#262626" stroke-width="0.15">80</text>
<text x="109.62" y="537.7" font-family='"Liberation Sans", sans-serif' font-size="7.75" font-weight="normal" font-style="normal" text-anchor="middle" fill="#262626" stroke="#262626" stroke-width="0.15">100</text>
<text x="126.05" y="537.7" font-family='"Liberation Sans", sans-serif' font-size="7.75" font-weight="normal" font-style="normal" text-anchor="middle" fill="#262626" stroke="#262626" stroke-width="0.15">120</text>
<text x="142.47" y="537.7" font-family='"Liberation Sans", sans-serif' font-size="7.75" font-weight="normal" font-style="normal" text-anchor="middle" fill="#262626" stroke="#262626" stroke-width="0.15">140</text>
<text x="158.9" y="537.7" font-family='"Liberation Sans", sans-serif' font-size="7.75" font-weight="normal" font-style="normal" text-anchor="middle" fill="#262626" stroke="#262626" stroke-width="0.15">160</text>
<path d="M26.3 405.2 H28.3 M26.3 425.87 H28.3 M26.3 446.53 H28.3 M26.3 467.2 H28.3 M26.3 487.87 H28.3 M26.3 508.53 H28.3 M26.3 529.2 H28.3 M28.3 529.2 V531.2 M44.72 529.2 V531.2 M61.15 529.2 V531.2 M77.57 529.2 V531.2 M94 529.2 V531.2 M110.42 529.2 V531.2 M126.85 529.2 V531.2 M143.27 529.2 V531.2 M159.7 529.2 V531.2" fill="none" stroke="#999999" stroke-width="0.9"/>
<text x="67.8" y="401.4" font-family='"Liberation Serif", serif' font-size="11.6" fill="#111" stroke="#111" stroke-width="0.3"><tspan font-style="italic">P</tspan><tspan dx="1.3" font-size="13.92">=</tspan><tspan dx="2.9">.067</tspan></text>
<path d="M28.6 425.8 L67.5 425.8 L67.5 437.8 L72.6 437.8 L72.6 450 L93.4 450 L93.4 463.5 L106.6 463.5 L106.6 476.5 L132.9 476.5 L132.9 503.3 L146.4 503.3" fill="none" stroke="#404040" stroke-width="1.2"/>
<path d="M34.4 424.5 V427.1 M40.9 424.5 V427.1 M61.8 424.5 V427.1 M68.5 436.5 V439.1 M109.4 475.2 V477.8 M124 475.2 V477.8 M146.4 502 V504.6" fill="none" stroke="#2a2a2a" stroke-width="1.25"/>
<path d="M28.6 425.8 L30 425.8 L30 436.6 L31.5 436.6 L31.5 441.7 L35.1 441.7 L35.1 446 L51 446 L51 452.5 L57.5 452.5 L57.5 458.3 L64.2 458.3 L64.2 465.5 L83.4 465.5 L83.4 473.4 L92.8 473.4 L92.8 481.4 L100.4 481.4 L100.4 491.1 L109.7 491.1 L109.7 529.2" fill="none" stroke="#777" stroke-width="1.1"/>
<path d="M35.8 444.7 V447.3 M40.1 444.7 V447.3 M46.6 444.7 V447.3 M70.4 464.2 V466.8 M74.8 464.2 V466.8 M93.5 480.1 V482.7 M102 489.8 V492.4 M105.3 489.8 V492.4" fill="none" stroke="#2a2a2a" stroke-width="1.25"/>
<text x="119.9" y="450.6" font-family='"Liberation Serif", serif' font-size="11.25" font-weight="bold" font-style="normal" text-anchor="start" fill="#111" stroke="#111" stroke-width="0.2">MT</text>
<text x="67.5" y="512.8" font-family='"Liberation Serif", serif' font-size="11.25" font-weight="bold" font-style="normal" text-anchor="start" fill="#111" stroke="#111" stroke-width="0.2">UM</text>
<text x="67.2" y="553.8" font-family='"Liberation Serif", serif' font-size="10.75" font-weight="bold" font-style="normal" text-anchor="start" fill="#111" stroke="#111" stroke-width="0.2">Months</text>
<text transform="translate(11.4 468.3) rotate(-90)" font-family='"Liberation Serif", serif' font-size="11" font-weight="bold" text-anchor="middle" fill="#111" stroke="#111" stroke-width="0.2">% surviving</text>
<path d="M205.3 405.4 H337.1" stroke="#a2a2a2" stroke-width="1.25" fill="none"/>
<path d="M336.5 405.4 V530" stroke="#8c8c8c" stroke-width="1.15" fill="none"/>
<path d="M205.3 404.8 V530.5" stroke="#a0a0a0" stroke-width="1.5" fill="none"/>
<path d="M204.6 530 H337" stroke="#707070" stroke-width="1.0" fill="none"/>
<text x="203.7" y="408.1" font-family='"Liberation Sans", sans-serif' font-size="7.75" font-weight="normal" font-style="normal" text-anchor="end" fill="#262626" stroke="#262626" stroke-width="0.15">1.2</text>
<text x="203.7" y="428.87" font-family='"Liberation Sans", sans-serif' font-size="7.75" font-weight="normal" font-style="normal" text-anchor="end" fill="#262626" stroke="#262626" stroke-width="0.15">1.0</text>
<text x="203.7" y="449.63" font-family='"Liberation Sans", sans-serif' font-size="7.75" font-weight="normal" font-style="normal" text-anchor="end" fill="#262626" stroke="#262626" stroke-width="0.15">.8</text>
<text x="203.7" y="470.4" font-family='"Liberation Sans", sans-serif' font-size="7.75" font-weight="normal" font-style="normal" text-anchor="end" fill="#262626" stroke="#262626" stroke-width="0.15">.6</text>
<text x="203.7" y="491.17" font-family='"Liberation Sans", sans-serif' font-size="7.75" font-weight="normal" font-style="normal" text-anchor="end" fill="#262626" stroke="#262626" stroke-width="0.15">.4</text>
<text x="203.7" y="511.93" font-family='"Liberation Sans", sans-serif' font-size="7.75" font-weight="normal" font-style="normal" text-anchor="end" fill="#262626" stroke="#262626" stroke-width="0.15">.2</text>
<text x="203.7" y="529.7" font-family='"Liberation Sans", sans-serif' font-size="7.75" font-weight="normal" font-style="normal" text-anchor="end" fill="#262626" stroke="#262626" stroke-width="0.15">0.0</text>
<text x="204.5" y="538.5" font-family='"Liberation Sans", sans-serif' font-size="7.75" font-weight="normal" font-style="normal" text-anchor="middle" fill="#262626" stroke="#262626" stroke-width="0.15">0</text>
<text x="223.24" y="538.5" font-family='"Liberation Sans", sans-serif' font-size="7.75" font-weight="normal" font-style="normal" text-anchor="middle" fill="#262626" stroke="#262626" stroke-width="0.15">20</text>
<text x="241.99" y="538.5" font-family='"Liberation Sans", sans-serif' font-size="7.75" font-weight="normal" font-style="normal" text-anchor="middle" fill="#262626" stroke="#262626" stroke-width="0.15">40</text>
<text x="260.73" y="538.5" font-family='"Liberation Sans", sans-serif' font-size="7.75" font-weight="normal" font-style="normal" text-anchor="middle" fill="#262626" stroke="#262626" stroke-width="0.15">60</text>
<text x="279.47" y="538.5" font-family='"Liberation Sans", sans-serif' font-size="7.75" font-weight="normal" font-style="normal" text-anchor="middle" fill="#262626" stroke="#262626" stroke-width="0.15">80</text>
<text x="298.21" y="538.5" font-family='"Liberation Sans", sans-serif' font-size="7.75" font-weight="normal" font-style="normal" text-anchor="middle" fill="#262626" stroke="#262626" stroke-width="0.15">100</text>
<text x="316.96" y="538.5" font-family='"Liberation Sans", sans-serif' font-size="7.75" font-weight="normal" font-style="normal" text-anchor="middle" fill="#262626" stroke="#262626" stroke-width="0.15">120</text>
<text x="335.7" y="538.5" font-family='"Liberation Sans", sans-serif' font-size="7.75" font-weight="normal" font-style="normal" text-anchor="middle" fill="#262626" stroke="#262626" stroke-width="0.15">140</text>
<path d="M203.3 405.4 H205.3 M203.3 426.17 H205.3 M203.3 446.93 H205.3 M203.3 467.7 H205.3 M203.3 488.47 H205.3 M203.3 509.23 H205.3 M203.3 530 H205.3 M205.3 530 V532 M224.04 530 V532 M242.79 530 V532 M261.53 530 V532 M280.27 530 V532 M299.01 530 V532 M317.76 530 V532 M336.5 530 V532" fill="none" stroke="#999999" stroke-width="0.9"/>
<text x="243.5" y="401.3" font-family='"Liberation Serif", serif' font-size="11.6" fill="#111" stroke="#111" stroke-width="0.3"><tspan font-style="italic">P</tspan><tspan dx="1.3" font-size="13.92">=</tspan><tspan dx="2.9">.277</tspan></text>
<path d="M205.8 425.8 L206.9 425.8 L206.9 436.3 L231.4 436.3 L231.4 452.2 L249.6 452.2 L249.6 470.8 L280.4 470.8 L280.4 500.2 L295.8 500.2 L295.8 530" fill="none" stroke="#404040" stroke-width="1.2"/>
<path d="M211.5 435 V437.6 M218.8 435 V437.6 M244 450.9 V453.5 M250.8 469.5 V472.1" fill="none" stroke="#2a2a2a" stroke-width="1.25"/>
<path d="M205.8 425.8 L206.9 425.8 L206.9 436.3 L209.4 436.3 L209.4 440.2 L213 440.2 L213 445.3 L239.7 445.3 L239.7 452.2 L255.4 452.2 L255.4 459.2 L269.2 459.2 L269.2 467.5 L287.1 467.5 L287.1 476 L297.7 476 L297.7 494.4 L324.6 494.4 L324.6 530" fill="none" stroke="#777" stroke-width="1.1"/>
<path d="M214.4 444 V446.6 M218.8 444 V446.6 M226 444 V446.6 M258.3 457.9 V460.5 M280.4 466.2 V468.8 M291 474.7 V477.3 M295.8 474.7 V477.3 M298.7 493.1 V495.7" fill="none" stroke="#2a2a2a" stroke-width="1.25"/>
<text x="257.3" y="441.4" font-family='"Liberation Serif", serif' font-size="11.65" font-weight="bold" font-style="normal" text-anchor="start" fill="#111" stroke="#111" stroke-width="0.2">ZAP-70 &#8805; 20%</text>
<text x="215.2" y="514" font-family='"Liberation Serif", serif' font-size="11.6" font-weight="bold" font-style="normal" text-anchor="start" fill="#111" stroke="#111" stroke-width="0.2">ZAP-70 &lt; 20%</text>
<text x="253.8" y="558.5" font-family='"Liberation Serif", serif' font-size="10.75" font-weight="bold" font-style="normal" text-anchor="start" fill="#111" stroke="#111" stroke-width="0.2">Months</text>
<text transform="translate(190.3 468) rotate(-90)" font-family='"Liberation Serif", serif' font-size="11" font-weight="bold" text-anchor="middle" fill="#111" stroke="#111" stroke-width="0.2">% surviving</text>
<path d="M381.7 405.4 H513.6" stroke="#a2a2a2" stroke-width="1.25" fill="none"/>
<path d="M513 405.4 V529" stroke="#8c8c8c" stroke-width="1.15" fill="none"/>
<path d="M381.7 404.8 V529.5" stroke="#a0a0a0" stroke-width="1.5" fill="none"/>
<path d="M381 529 H513.5" stroke="#707070" stroke-width="1.0" fill="none"/>
<text x="380.1" y="408.1" font-family='"Liberation Sans", sans-serif' font-size="7.75" font-weight="normal" font-style="normal" text-anchor="end" fill="#262626" stroke="#262626" stroke-width="0.15">1.2</text>
<text x="380.1" y="428.7" font-family='"Liberation Sans", sans-serif' font-size="7.75" font-weight="normal" font-style="normal" text-anchor="end" fill="#262626" stroke="#262626" stroke-width="0.15">1.0</text>
<text x="380.1" y="449.3" font-family='"Liberation Sans", sans-serif' font-size="7.75" font-weight="normal" font-style="normal" text-anchor="end" fill="#262626" stroke="#262626" stroke-width="0.15">.8</text>
<text x="380.1" y="469.9" font-family='"Liberation Sans", sans-serif' font-size="7.75" font-weight="normal" font-style="normal" text-anchor="end" fill="#262626" stroke="#262626" stroke-width="0.15">.6</text>
<text x="380.1" y="490.5" font-family='"Liberation Sans", sans-serif' font-size="7.75" font-weight="normal" font-style="normal" text-anchor="end" fill="#262626" stroke="#262626" stroke-width="0.15">.4</text>
<text x="380.1" y="511.1" font-family='"Liberation Sans", sans-serif' font-size="7.75" font-weight="normal" font-style="normal" text-anchor="end" fill="#262626" stroke="#262626" stroke-width="0.15">.2</text>
<text x="380.1" y="528.7" font-family='"Liberation Sans", sans-serif' font-size="7.75" font-weight="normal" font-style="normal" text-anchor="end" fill="#262626" stroke="#262626" stroke-width="0.15">0.0</text>
<text x="380.9" y="537.5" font-family='"Liberation Sans", sans-serif' font-size="7.75" font-weight="normal" font-style="normal" text-anchor="middle" fill="#262626" stroke="#262626" stroke-width="0.15">0</text>
<text x="397.31" y="537.5" font-family='"Liberation Sans", sans-serif' font-size="7.75" font-weight="normal" font-style="normal" text-anchor="middle" fill="#262626" stroke="#262626" stroke-width="0.15">20</text>
<text x="413.72" y="537.5" font-family='"Liberation Sans", sans-serif' font-size="7.75" font-weight="normal" font-style="normal" text-anchor="middle" fill="#262626" stroke="#262626" stroke-width="0.15">40</text>
<text x="430.14" y="537.5" font-family='"Liberation Sans", sans-serif' font-size="7.75" font-weight="normal" font-style="normal" text-anchor="middle" fill="#262626" stroke="#262626" stroke-width="0.15">60</text>
<text x="446.55" y="537.5" font-family='"Liberation Sans", sans-serif' font-size="7.75" font-weight="normal" font-style="normal" text-anchor="middle" fill="#262626" stroke="#262626" stroke-width="0.15">80</text>
<text x="462.96" y="537.5" font-family='"Liberation Sans", sans-serif' font-size="7.75" font-weight="normal" font-style="normal" text-anchor="middle" fill="#262626" stroke="#262626" stroke-width="0.15">100</text>
<text x="479.38" y="537.5" font-family='"Liberation Sans", sans-serif' font-size="7.75" font-weight="normal" font-style="normal" text-anchor="middle" fill="#262626" stroke="#262626" stroke-width="0.15">120</text>
<text x="495.79" y="537.5" font-family='"Liberation Sans", sans-serif' font-size="7.75" font-weight="normal" font-style="normal" text-anchor="middle" fill="#262626" stroke="#262626" stroke-width="0.15">140</text>
<text x="512.2" y="537.5" font-family='"Liberation Sans", sans-serif' font-size="7.75" font-weight="normal" font-style="normal" text-anchor="middle" fill="#262626" stroke="#262626" stroke-width="0.15">160</text>
<path d="M379.7 405.4 H381.7 M379.7 426 H381.7 M379.7 446.6 H381.7 M379.7 467.2 H381.7 M379.7 487.8 H381.7 M379.7 508.4 H381.7 M379.7 529 H381.7 M381.7 529 V531 M398.11 529 V531 M414.52 529 V531 M430.94 529 V531 M447.35 529 V531 M463.76 529 V531 M480.18 529 V531 M496.59 529 V531 M513 529 V531" fill="none" stroke="#999999" stroke-width="0.9"/>
<text x="421" y="401.3" font-family='"Liberation Serif", serif' font-size="11.6" fill="#111" stroke="#111" stroke-width="0.3"><tspan font-style="italic">P</tspan><tspan dx="1.3" font-size="13.92">=</tspan><tspan dx="2.9">.030</tspan></text>
<path d="M382 425.8 L421 425.8 L421 436.3 L426.3 436.3 L426.3 447.8 L447.2 447.8 L447.2 459.7 L460.4 459.7 L460.4 476.9 L499.7 476.9" fill="none" stroke="#404040" stroke-width="1.2"/>
<path d="M388.1 424.5 V427.1 M393.1 424.5 V427.1 M399.3 424.5 V427.1 M415.5 424.5 V427.1 M422 435 V437.6 M457.1 458.4 V461 M462.8 475.6 V478.2 M477.6 475.6 V478.2 M499.7 475.6 V478.2" fill="none" stroke="#2a2a2a" stroke-width="1.25"/>
<path d="M382 425.8 L383.5 425.8 L383.5 439.5 L384.9 439.5 L384.9 444.6 L388.1 444.6 L388.1 448.9 L411.5 448.9 L411.5 456.8 L417.2 456.8 L417.2 464.9 L436.9 464.9 L436.9 475.6 L446.4 475.6 L446.4 486.4 L453.8 486.4 L453.8 500.7 L463.6 500.7 L463.6 529" fill="none" stroke="#777" stroke-width="1.1"/>
<path d="M389.5 447.6 V450.2 M394.2 447.6 V450.2 M401.4 447.6 V450.2 M423.4 463.6 V466.2 M428.5 463.6 V466.2 M447.2 485.1 V487.7 M461.2 499.4 V502" fill="none" stroke="#2a2a2a" stroke-width="1.25"/>
<text x="463.7" y="439.4" font-family='"Liberation Serif", serif' font-size="11.25" font-weight="bold" font-style="normal" text-anchor="start" fill="#111" stroke="#111" stroke-width="0.2">L/A &lt; 1</text>
<text x="400.6" y="513.3" font-family='"Liberation Serif", serif' font-size="11.25" font-weight="bold" font-style="normal" text-anchor="start" fill="#111" stroke="#111" stroke-width="0.2">L/A &#8805; 1</text>
<text x="425.4" y="558.5" font-family='"Liberation Serif", serif' font-size="10.75" font-weight="bold" font-style="normal" text-anchor="start" fill="#111" stroke="#111" stroke-width="0.2">Months</text>
<text transform="translate(365.7 468) rotate(-90)" font-family='"Liberation Serif", serif' font-size="11" font-weight="bold" text-anchor="middle" fill="#111" stroke="#111" stroke-width="0.2">% surviving</text>
</svg>
</body></html>
